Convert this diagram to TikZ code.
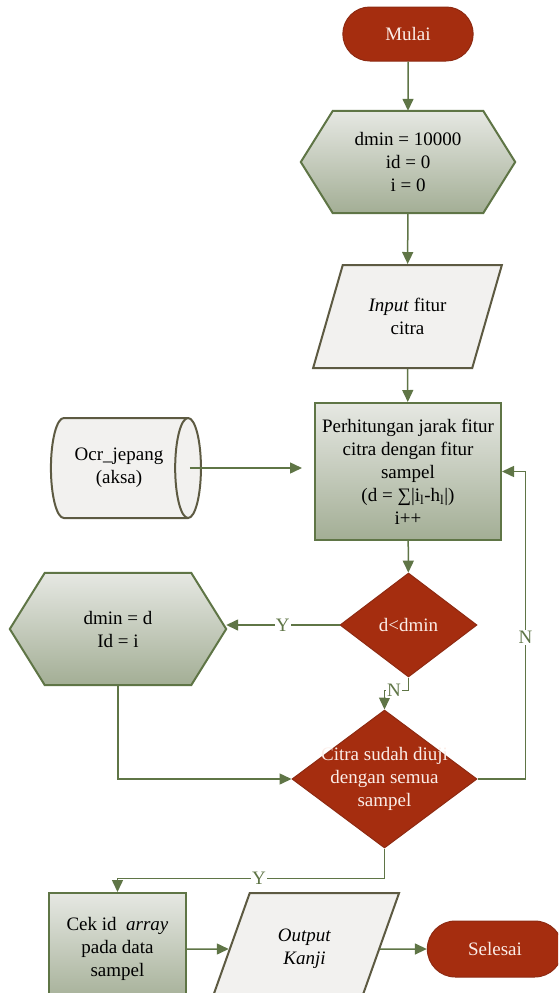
\documentclass[tikz,border=0pt]{standalone}
\usepackage{fontspec}
\setmainfont{Liberation Serif}
\usetikzlibrary{shapes.geometric,shapes.misc,arrows.meta,positioning,backgrounds}

\definecolor{termred}{HTML}{A52D0F}
\definecolor{termedge}{HTML}{8E2A12}
\definecolor{termtext}{HTML}{FBEDE8}
\definecolor{lineclr}{HTML}{5F7546}
\definecolor{shadetop}{HTML}{E6E8E3}
\definecolor{shadebot}{HTML}{A3AE95}
\definecolor{ioedge}{HTML}{5D5A42}
\definecolor{iofill}{HTML}{F2F1EF}

\begin{document}
\begin{tikzpicture}[
    x=1pt, y=-1pt,
    font=\fontsize{19}{23}\selectfont,
    terminal/.style={rounded rectangle, draw=termedge, line width=1pt, fill=termred,
        text=termtext, minimum height=54pt},
    prep/.style={rectangle, align=center, inner sep=0pt},
    prepshade/.style={draw=lineclr, line width=2pt, top color=shadetop,
        bottom color=shadebot},
    procbox/.style={rectangle, draw=lineclr, line width=2pt, top color=shadetop,
        bottom color=shadebot, align=center, inner sep=0pt},
    iobox/.style={trapezium, trapezium stretches=true, trapezium left angle=64,
        trapezium right angle=116, draw=ioedge, line width=2pt, fill=iofill,
        align=center, inner sep=0pt},
    decision/.style={diamond, draw=termedge, line width=1pt, fill=termred,
        text=termtext, inner sep=0pt},
    flow/.style={draw=lineclr, line width=1.5pt, -{Triangle[length=12pt,width=11pt]}},
    lbl/.style={fill=white, text=lineclr, inner sep=1pt}
]
    \useasboundingbox (0,0) rectangle (558,993);
    \clip (0,0) rectangle (558,993);

    % Nodes
    \node[terminal, minimum width=137pt] (start) at (408,34) {Mulai};
    \node[prep, minimum width=214pt, minimum height=102pt]
        (init) at (408,162) {dmin = 10000\\id = 0\\i = 0};
    \node[iobox, minimum width=189pt, minimum height=103pt]
        (input) at (407.5,316.5) {\textit{Input} fitur\\citra};
    \node[procbox, minimum width=186pt, minimum height=137pt] (calc) at (408,471.5)
        {Perhitungan jarak fitur\\citra dengan fitur\\sampel\\
         (d = ∑|i\textsubscript{l}-h\textsubscript{l}|)\\i++};
    \node[cylinder, aspect=0.65, draw=ioedge, line width=2pt, fill=iofill,
        minimum width=100pt, minimum height=150pt, align=center, inner sep=0pt]
        (store) at (119,468) {Ocr\_jepang\\(aksa)};
    \node[decision, minimum width=137pt, minimum height=104pt] (cmp) at (408.5,625) {d<dmin};
    \node[prep, minimum width=216pt, minimum height=112pt]
        (upd) at (118,629) {dmin = d\\Id = i};
    \node[decision, minimum width=185pt, minimum height=138pt,
        label={[text=termtext, align=center]center:Citra sudah diuji\\dengan semua\\sampel}]
        (done) at (384.5,779) {};
    \node[procbox, minimum width=137pt, minimum height=112pt] (cek) at (117.5,949)
        {Cek id \textit{ array}\\pada data\\sampel};
    \node[iobox, minimum width=191pt, minimum height=112pt] (out) at (304.5,949)
        {\textit{Output}\\\textit{Kanji}};
    \node[terminal, minimum width=142pt, minimum height=56pt] (finish) at (495,949) {Selesai};

    % Hexagon outlines
    \begin{pgfonlayer}{background}
        \shade[prepshade] (init.west) -- ([xshift=32pt]init.north west)
            -- ([xshift=-32pt]init.north east) -- (init.east)
            -- ([xshift=-32pt]init.south east) -- ([xshift=32pt]init.south west) -- cycle;
        \shade[prepshade] (upd.west) -- ([xshift=35pt]upd.north west)
            -- ([xshift=-35pt]upd.north east) -- (upd.east)
            -- ([xshift=-35pt]upd.south east) -- ([xshift=35pt]upd.south west) -- cycle;
    \end{pgfonlayer}

    % Connectors
    \draw[flow] (start) -- (init);
    \draw[flow] (init) -- (input);
    \draw[flow] (input) -- (calc);
    \draw[flow] ([xshift=-12pt]store.east) -- ([xshift=-12pt]store.east -| calc.west);
    \draw[flow] (calc) -- (cmp);
    \draw[flow] (cmp.west) -- node[lbl] {Y} (cmp.west -| upd.east);
    \draw[flow] (cmp.south) -- ++(0,13) -| node[lbl, pos=0.3] {N} (done.north);
    \draw[flow] (upd.south) |- (done.west);
    \draw[flow] (done.east) -- ++(48,0) |- node[lbl, pos=0.23] {N} (calc.east);
    \draw[flow] (done.south) -- ++(0,30) -| node[lbl, pos=0.235] {Y} (cek.north);
    \draw[flow] (cek.east) -- (out.west);
    \draw[flow] (out.east) -- (finish.west);
\end{tikzpicture}
\end{document}
